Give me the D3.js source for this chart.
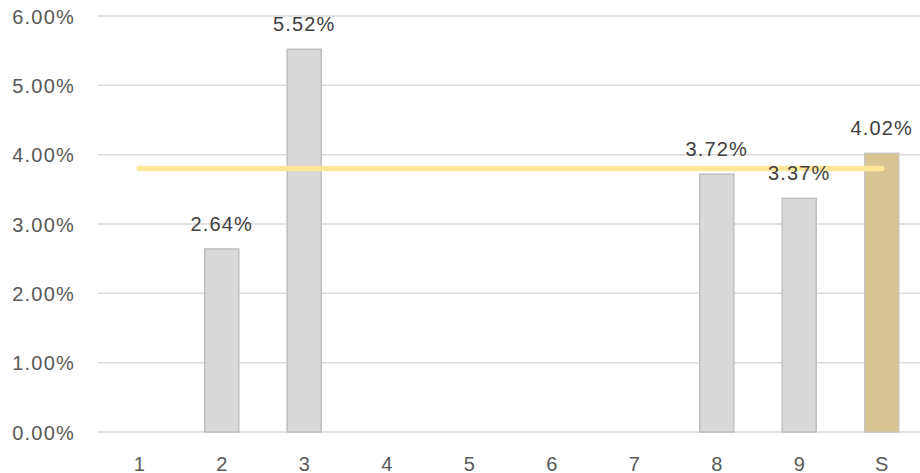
<!DOCTYPE html>
<html>
<head>
<meta charset="utf-8">
<script src="https://cdn.jsdelivr.net/npm/d3@7"></script>
<style>
  body { margin: 0; background: #fff; }
  svg text { font-family: "Liberation Sans", Arial, sans-serif; }
</style>
</head>
<body>
<svg id="chart" width="920" height="473"></svg>
<script>
// datos
const categorias = ['1', '2', '3', '4', '5', '6', '7', '8', '9', 'S'];
const valores = [null, 0.0264, 0.0552, null, null, null, null, 0.0372, 0.0337, 0.0402];
const promedio = 0.038;
const yTicks = [0, 0.01, 0.02, 0.03, 0.04, 0.05, 0.06];

const svg = d3.select('#chart');
const margIzq = 98, margDer = 923, margSup = 16, margInf = 432;

let x = d3.scaleBand().domain(categorias).range([margIzq, margDer]).paddingInner(0.588).paddingOuter(0.294);
let y = d3.scaleLinear().domain([0, 0.06]).range([margInf, margSup]);

// lineas de la grilla
svg.append('g').attr('id', 'grilla')
  .selectAll('line').data(yTicks).join('line')
  .attr('x1', margIzq).attr('x2', 920)
  .attr('y1', d => y(d)).attr('y2', d => y(d))
  .attr('stroke', '#d9d9d9').attr('stroke-width', 1.5);

// eje y
let yEje = d3.axisLeft(y).tickValues(yTicks).tickSize(0).tickPadding(0)
  .tickFormat(d3.format('.2%'));
svg.append('g').attr('id', 'yEje')
  .attr('transform', 'translate(75,0)')
  .call(yEje)
  .call(g => g.select('.domain').remove())
  .selectAll('text')
  .attr('font-size', 20).attr('fill', '#595959').attr('letter-spacing', 1.2)
  .attr('dy', '0.35em');

// eje x
let xEje = d3.axisBottom(x).tickSize(0).tickPadding(0);
svg.append('g').attr('id', 'xEje')
  .attr('transform', 'translate(0,' + 457 + ')')
  .call(xEje)
  .call(g => g.select('.domain').remove())
  .selectAll('text')
  .attr('font-size', 20).attr('fill', '#595959');

// barras
const datos = categorias.map((c, i) => ({ cat: c, v: valores[i] })).filter(d => d.v != null);
svg.append('g').attr('id', 'barras')
  .selectAll('rect').data(datos).join('rect')
  .attr('x', d => x(d.cat))
  .attr('y', d => y(d.v))
  .attr('width', x.bandwidth())
  .attr('height', d => y(0) - y(d.v))
  .attr('fill', d => d.cat == 'S' ? '#d9c494' : '#d9d9d9')
  .attr('stroke', d => d.cat == 'S' ? '#cbc6bb' : '#bfbfbf')
  .attr('stroke-width', 1.5);

// linea promedio
svg.append('line')
  .attr('x1', x('1') + x.bandwidth() / 2)
  .attr('x2', x('S') + x.bandwidth() / 2)
  .attr('y1', y(promedio)).attr('y2', y(promedio))
  .attr('stroke', '#ffe699').attr('stroke-width', 5.5)
  .attr('stroke-linecap', 'round');

// etiquetas
svg.append('g').attr('id', 'etiquetas')
  .selectAll('text').data(datos).join('text')
  .attr('x', d => x(d.cat) + x.bandwidth() / 2)
  .attr('y', d => y(d.v) - 18)
  .attr('text-anchor', 'middle')
  .attr('font-size', 20).attr('fill', '#404040').attr('letter-spacing', 1.2)
  .text(d => d3.format('.2%')(d.v));
</script>
</body>
</html>
